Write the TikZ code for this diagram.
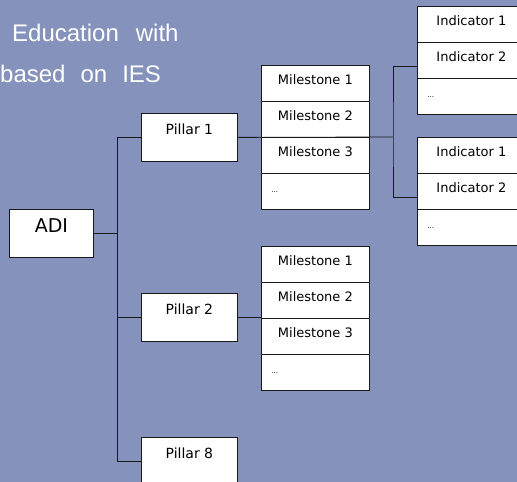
\documentclass[tikz,border=0pt]{standalone}
\usepackage{fontspec}
\newfontfamily\boxfont{DejaVu Sans}
\newfontfamily\titlefont{Liberation Sans}
\usetikzlibrary{calc}
\definecolor{bgblue}{RGB}{133,146,188}
\tikzset{x=1pt,y=-1pt,
 link/.style={draw=black!90,line width=0.8pt},
 box/.style={draw=black!90,line width=0.8pt,fill=white,inner sep=0pt,anchor=north west},
 cell/.style={box,minimum width=108pt,minimum height=36pt,text height=19pt,text depth=17pt,font=\boxfont\fontsize{13}{15}\selectfont},
 pillar/.style={box,minimum width=96pt,minimum height=48pt,text height=21pt,text depth=27pt,font=\boxfont\fontsize{14}{16}\selectfont},
 title/.style={inner sep=0pt,anchor=base west,text=white,font=\titlefont\fontsize{24}{28}\selectfont}}
\newcommand{\dotsrow}{\makebox[88pt][l]{\fontsize{7}{8}\selectfont...}}

\begin{document}
\begin{tikzpicture}
\useasboundingbox (0,0) rectangle (517,482);
\clip (0,0) rectangle (517,482);
\fill[bgblue] (0,0) rectangle (517,482);
% title
\node[title] (line1) at (12,41) {Education\hspace{17pt}with};
\node[title] (line2) at (0,82) {based\hspace{15pt}on\hspace{15pt}IES};
% root and pillars
\node[box,minimum width=84pt,minimum height=48pt,text height=23pt,text depth=25pt,font=\boxfont\fontsize{19}{22}\selectfont] (adi) at (9,209) {ADI};
\foreach \p/\y in {1/113,2/293,8/437} {
 \node[pillar] (p\p) at (141,\y) {Pillar \p};
}
% stacks of cells
\foreach \grp/\x/\y/\word/\n in {ma/261/65/Milestone/3,mb/261/246/Milestone/3,ia/417/6/Indicator/2,ib/417/137/Indicator/2} {
 \foreach \i in {1,...,\n} {
  \node[cell] (\grp\i) at (\x,{\y+36*(\i-1)}) {\word\ \i};
 }
 \node[cell] (\grp-dots) at (\x,{\y+36*\n}) {\dotsrow};
}
% connectors
\coordinate (trunk) at ($(adi.east)+(24,0)$);
\coordinate (split) at (393,137);
\draw[link] (adi.east) -- (trunk);
\draw[link] (p1.west) -| (trunk) |- (p8.west);
\draw[link] (trunk |- p2.west) -- (p2.west);
\draw[link] (p1.east) -- (split);
\draw[link] ([yshift=-6pt]ia2.west) -| (split) |- ([yshift=-6pt]ib2.west);
\draw[link] (p2.east) -- (p2.east -| mb3.west);
\end{tikzpicture}
\end{document}
